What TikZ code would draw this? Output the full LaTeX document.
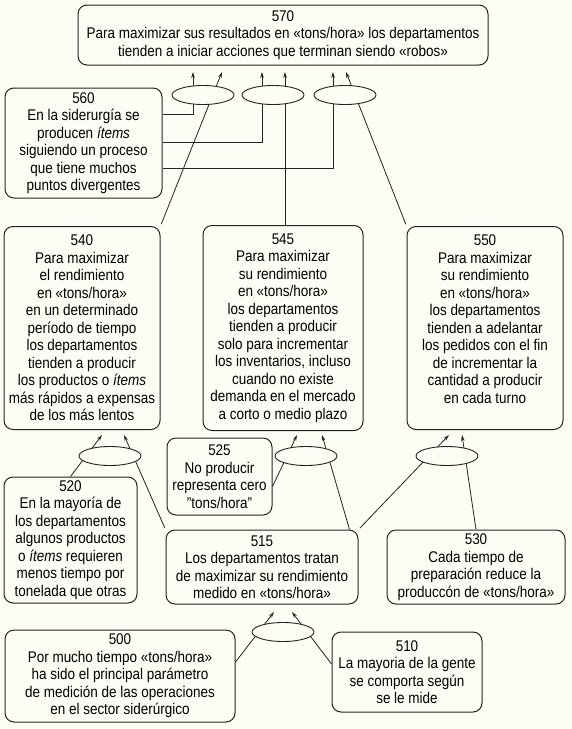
\documentclass[tikz,border=0pt]{standalone}
\usepackage{fontspec}
\setmainfont{Liberation Sans}[FakeStretch=0.87]
\usetikzlibrary{shapes.geometric,arrows.meta}

\definecolor{fondo}{RGB}{253,253,246}
\definecolor{tinta}{RGB}{35,35,35}

\begin{document}
\begin{tikzpicture}[x=1pt, y=-1pt, >={Stealth[length=6pt,width=3.6pt]},
    caja/.style={draw=tinta, rounded corners=9pt, align=center, line width=1pt,
      inner sep=1pt, text=black, font=\fontsize{15.5}{17.5}\selectfont},
    junta/.style={draw=tinta, ellipse, fill=fondo, minimum width=62pt,
      minimum height=19pt, inner sep=0pt, line width=0.9pt},
    flecha/.style={draw=tinta, line width=0.8pt, ->}]
  \fill[fondo] (0,0) rectangle (572,729);
  \useasboundingbox (0,0) rectangle (572,729);

  % cajas
  \node[caja, minimum width=410pt, minimum height=60pt] (b570) at (283,35)
    {570\\Para maximizar sus resultados en «tons/hora» los departamentos\\tienden a iniciar acciones que terminan siendo «robos»};
  \node[caja, minimum width=157pt, minimum height=110pt] (b560) at (83.5,143)
    {560\\En la siderurgía se\\producen {\itshape ítems}\\siguiendo un proceso\\que tiene muchos\\puntos divergentes};
  \node[caja, minimum width=156pt, minimum height=203pt] (b540) at (82,328)
    {540\\Para maximizar\\el rendimiento\\en «tons/hora»\\en un determinado\\período de tiempo\\los departamentos\\tienden a producir\\los productos o {\itshape ítems}\\más rápidos a expensas\\de los más lentos};
  \node[caja, minimum width=160pt, minimum height=205pt] (b545) at (283,328)
    {545\\Para maximizar\\su rendimiento\\en «tons/hora»\\los departamentos\\tienden a producir\\solo para incrementar\\los inventarios, incluso\\cuando no existe\\demanda en el mercado\\a corto o medio plazo};
  \node[caja, minimum width=156pt, minimum height=203pt] (b550) at (485,328)
    {550\\Para maximizar\\su rendimiento\\en «tons/hora»\\los departamentos\\tienden a adelantar\\los pedidos con el fin\\de incrementar la\\cantidad a producir\\en cada turno\\ \mbox{}};
  \node[caja, minimum width=105pt, minimum height=77pt] (b525) at (219.5,476.5)
    {525\\No producir\\representa cero\\{\char34}tons/hora{\char34}};
  \node[caja, minimum width=133pt, minimum height=126pt] (b520) at (70.5,540)
    {520\\En la mayoría de\\los departamentos\\algunos productos\\o {\itshape ítems} requieren\\menos tiempo por\\tonelada que otras};
  \node[caja, minimum width=192pt, minimum height=74pt] (b515) at (262,567)
    {515\\Los departamentos tratan\\de maximizar su rendimiento\\medido en «tons/hora»};
  \node[caja, minimum width=178pt, minimum height=74pt] (b530) at (476,567)
    {530\\Cada tiempo de\\preparación reduce la\\produccón de «tons/hora»};
  \node[caja, minimum width=230pt, minimum height=92pt] (b500) at (120,676)
    {500\\Por mucho tiempo «tons/hora»\\ha sido el principal parámetro\\de medición de las operaciones\\en el sector siderúrgico};
  \node[caja, minimum width=150pt, minimum height=80pt] (b510) at (407,672)
    {510\\La mayoria de la gente\\se comporta según\\se le mide};

  % puntas de flecha
  \coordinate (t570a) at (193,72);
  \coordinate (t570b) at (222,72);
  \coordinate (t570c) at (262,72);
  \coordinate (t570d) at (285,72);
  \coordinate (t570e) at (333,72);
  \coordinate (t570f) at (346,72);
  \coordinate (t540a) at (102,435);
  \coordinate (t540b) at (124,435);
  \coordinate (t545a) at (297,435);
  \coordinate (t545b) at (322,435);
  \coordinate (t550a) at (449,435);
  \coordinate (t550b) at (462,435);
  \coordinate (t515a) at (274,612);
  \coordinate (t515b) at (292,612);

  % conectores
  \draw[flecha] ([yshift=29pt]b560.east) -| (t570a);
  \draw[flecha] ([yshift=1pt]b560.east) -| (t570c);
  \draw[flecha] ([yshift=-25pt]b560.east) -| (t570e);
  \draw[flecha, shorten <=2pt] (b540.north east) -- (t570b);
  \draw[flecha] (b545.north -| t570d) -- (t570d);
  \draw[flecha, shorten <=2pt] (b550.north west) -- (t570f);
  \draw[flecha] (b520.north) -- (t540a);
  \draw[flecha, shorten <=2pt] (b515.north west) -- (t540b);
  \draw[flecha] ([yshift=-10pt]b525.east) -- (t545a);
  \draw[flecha] ([xshift=-9pt]b515.north east) -- (t545b);
  \draw[flecha, shorten <=2pt] (b515.north east) -- (t550a);
  \draw[flecha] (b530.north) -- (t550b);
  \draw[flecha] ([yshift=14pt]b500.east) -- (t515a);
  \draw[flecha] ([yshift=8pt]b510.west) -- (t515b);

  % uniones
  \node[junta] (e1) at (203,95) {};
  \node[junta] (e2) at (273,95) {};
  \node[junta] (e3) at (345,95) {};
  \node[junta] (e4) at (110,456) {};
  \node[junta] (e5) at (306,456) {};
  \node[junta] (e6) at (447,456) {};
  \node[junta] (e7) at (283,632) {};
\end{tikzpicture}
\end{document}
